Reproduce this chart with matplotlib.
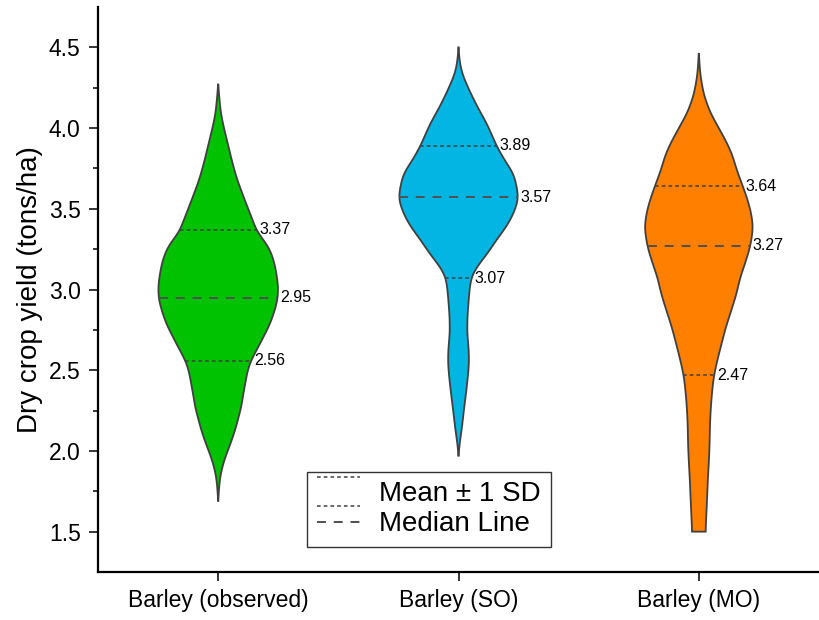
import numpy as np
import matplotlib.pyplot as plt
from matplotlib.lines import Line2D
from matplotlib.legend_handler import HandlerBase

plt.rcParams['font.family'] = ['Liberation Sans', 'DejaVu Sans']

categories = ['Barley (observed)', 'Barley (SO)', 'Barley (MO)']
colors = ['#00C200', '#02B5E3', '#FF8000']

# violin outlines: yield level and half width
obs_y = [1.69, 1.76, 1.84, 1.90, 1.96, 2.04, 2.13, 2.20, 2.27, 2.35, 2.42, 2.49, 2.55,
         2.62, 2.69, 2.79, 2.87, 2.94, 3.02, 3.14, 3.21, 3.27, 3.36, 3.42, 3.48, 3.58,
         3.68, 3.78, 3.89, 4.00, 4.09, 4.20, 4.27]
obs_w = [0, .003, .008, .017, .029, .050, .071, .083, .096, .104, .113, .121, .133,
         .158, .183, .217, .235, .248, .250, .238, .225, .208, .160, .146, .130, .104,
         .079, .060, .042, .024, .011, .004, 0]

so_y = [1.97, 2.04, 2.11, 2.18, 2.25, 2.33, 2.42, 2.49, 2.56, 2.64, 2.73, 2.83, 2.93,
        3.00, 3.07, 3.12, 3.16, 3.20, 3.24, 3.30, 3.39, 3.47, 3.56, 3.64, 3.72, 3.80,
        3.89, 3.96, 4.03, 4.13, 4.23, 4.34, 4.42, 4.50]
so_w = [0, .004, .011, .017, .022, .029, .036, .041, .044, .042, .036, .037, .042,
        .046, .052, .067, .087, .108, .129, .154, .200, .229, .250, .242, .229, .192,
        .158, .138, .117, .079, .046, .014, .004, 0]

mo_y = [1.50, 1.60, 1.73, 1.84, 1.94, 2.05, 2.15, 2.25, 2.35, 2.46, 2.55, 2.65, 2.77,
        2.87, 2.98, 3.07, 3.16, 3.26, 3.33, 3.39, 3.48, 3.56, 3.64, 3.73, 3.84, 3.92,
        4.00, 4.10, 4.21, 4.33, 4.46]
mo_w = [.028, .031, .035, .038, .042, .045, .046, .049, .054, .062, .075, .092, .113,
        .135, .158, .171, .192, .213, .221, .226, .217, .202, .183, .160, .138, .113,
        .083, .046, .020, .006, 0]

mean_hi = [3.37, 3.89, 3.64]
medians = [2.95, 3.57, 3.27]
mean_lo = [2.56, 3.07, 2.47]


def outline(ys, ws, n=600, sigma=0.035):
    # linear trace through the read points, then a light gaussian smoothing
    yy = np.linspace(ys[0], ys[-1], n)
    ww = np.interp(yy, ys, ws)
    step = yy[1] - yy[0]
    half = int(3 * sigma / step)
    g = np.exp(-0.5 * (np.arange(-half, half + 1) * step / sigma) ** 2)
    g /= g.sum()
    ww = np.convolve(np.pad(ww, half, mode='edge'), g, mode='valid')
    return yy, ww


class TwoLineHandler(HandlerBase):
    # Origin style key: one dotted line above and one below the text
    def create_artists(self, legend, orig_handle, xdescent, ydescent,
                       width, height, fontsize, trans):
        mid = height / 2 - ydescent
        off = 0.53 * fontsize
        out = []
        for dy in (off, -off):
            ln = Line2D([-xdescent, -xdescent + width], [mid + dy, mid + dy])
            ln.update_from(orig_handle)
            ln.set_transform(trans)
            out.append(ln)
        return out


fig = plt.figure(figsize=(8.19, 6.2), dpi=100)
ax = fig.add_axes([0.1197, 0.0774, 0.8803, 0.9113])

sd_style = dict(color='#404040', lw=1.1, dashes=(2.4, 2.0))
med_style = dict(color='#505050', lw=1.4, dashes=(4.6, 4.0))

profiles = [(obs_y, obs_w), (so_y, so_w), (mo_y, mo_w)]
for i, (ys, ws) in enumerate(profiles):
    pos = i + 1
    yy, ww = outline(ys, ws)
    ax.fill(np.r_[pos + ww, (pos - ww)[::-1]], np.r_[yy, yy[::-1]],
            fc=colors[i], ec='#404040', lw=1.3, zorder=2)
    for v, st in [(mean_hi[i], sd_style), (medians[i], med_style), (mean_lo[i], sd_style)]:
        hw = np.interp(v, yy, ww)
        ax.plot([pos - hw, pos + hw], [v, v], zorder=3, **st)
        ax.annotate(f'{v:.2f}', xy=(pos + hw, v), xytext=(2, 0),
                    textcoords='offset points', va='center', ha='left', fontsize=11.5)

ax.set_xlim(0.5, 3.5)
ax.set_ylim(1.25, 4.75)
ax.set_xticks([1, 2, 3])
ax.set_xticklabels(categories)
ax.set_yticks(np.arange(1.5, 4.51, 0.5))
ax.set_yticks(np.arange(1.75, 4.6, 0.5), minor=True)
ax.yaxis.set_major_formatter(plt.FormatStrFormatter('%.1f'))
ax.set_ylabel('Dry crop yield (tons/ha)', fontsize=20, labelpad=4)

for s in ['top', 'right']:
    ax.spines[s].set_visible(False)
for s in ['left', 'bottom']:
    ax.spines[s].set_linewidth(1.6)
ax.tick_params(axis='both', which='major', length=6.5, width=1.1, labelsize=16.5, pad=6)
ax.tick_params(axis='y', which='minor', length=3.5, width=1.1)

h_sd = Line2D([], [], **sd_style)
h_med = Line2D([], [], **med_style)
leg = ax.legend([h_sd, h_med], ['Mean \u00b1 1 SD', 'Median Line'],
                handler_map={h_sd: TwoLineHandler()},
                loc='lower left', bbox_to_anchor=(0.29, 0.044), fontsize=20,
                fancybox=False, edgecolor='#333333', framealpha=1,
                handlelength=1.55, handletextpad=0.7, labelspacing=0.15,
                borderpad=0.35, borderaxespad=0)
leg.get_frame().set_linewidth(1.0)

fig.savefig('out.png', dpi=100)
